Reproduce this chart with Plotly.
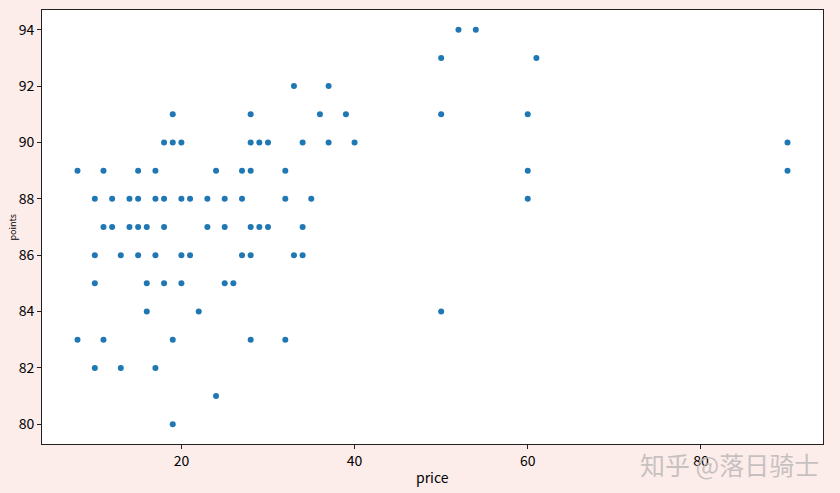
import plotly.graph_objects as go

# price / points pairs
price = [52, 54,
         50, 61,
         33, 37,
         19, 28, 36, 39, 50, 60,
         18, 19, 20, 28, 29, 30, 34, 37, 40, 90,
         8, 11, 15, 17, 24, 27, 28, 32, 60, 90,
         10, 12, 14, 15, 17, 18, 20, 21, 23, 25, 27, 32, 35, 60,
         11, 12, 14, 15, 16, 18, 23, 25, 28, 29, 30, 34,
         10, 13, 15, 17, 20, 21, 27, 28, 33, 34,
         10, 16, 18, 20, 25, 26,
         16, 22, 50,
         8, 11, 19, 28, 32,
         10, 13, 17,
         24,
         19]
points = [94, 94,
          93, 93,
          92, 92,
          91, 91, 91, 91, 91, 91,
          90, 90, 90, 90, 90, 90, 90, 90, 90, 90,
          89, 89, 89, 89, 89, 89, 89, 89, 89, 89,
          88, 88, 88, 88, 88, 88, 88, 88, 88, 88, 88, 88, 88, 88,
          87, 87, 87, 87, 87, 87, 87, 87, 87, 87, 87, 87,
          86, 86, 86, 86, 86, 86, 86, 86, 86, 86,
          85, 85, 85, 85, 85, 85,
          84, 84, 84,
          83, 83, 83, 83, 83,
          82, 82, 82,
          81,
          80]

x_ticks = [20, 40, 60, 80]
y_ticks = [80, 82, 84, 86, 88, 90, 92, 94]

FONT = "Noto Sans CJK SC"
BG = "#fcecea"

fig = go.Figure(go.Scatter(
    x=price, y=points, mode="markers",
    marker=dict(color="#1f77b4", size=6, line=dict(width=0)),
    hoverinfo="x+y",
))

axis_common = dict(
    showgrid=False, zeroline=False, showline=True, mirror=True,
    linecolor="#222", linewidth=1, ticks="outside", ticklen=4,
    tickcolor="#222", tickfont=dict(family=FONT, size=14, color="#000"),
    automargin=False,
)

fig.update_layout(
    width=840, height=493,
    margin=dict(l=42, r=17, t=10, b=49),
    paper_bgcolor=BG, plot_bgcolor="#ffffff",
    showlegend=False,
    xaxis=dict(range=[3.9, 94.1], tickvals=x_ticks, **axis_common),
    yaxis=dict(range=[79.3, 94.7], tickvals=y_ticks, **axis_common),
    annotations=[
        dict(text="price", xref="paper", yref="paper", x=0.5, y=-0.075,
             xanchor="center", yanchor="middle", showarrow=False,
             font=dict(family=FONT, size=14, color="#000")),
        dict(text="points", xref="paper", yref="paper", x=-0.039, y=0.5,
             xanchor="center", yanchor="middle", showarrow=False, textangle=-90,
             font=dict(family=FONT, size=9, color="#000")),
        dict(text="知乎 @落日骑士", xref="paper", yref="paper",
             x=0.997, y=-0.0, xanchor="right", yanchor="top", showarrow=False,
             font=dict(family=FONT, size=25, color="rgba(190,185,185,0.85)")),
    ],
)

fig.write_html(
    "out.html",
    config={"displayModeBar": False},
    post_script="document.body.style.margin='0';document.body.style.background='%s';" % BG,
)
